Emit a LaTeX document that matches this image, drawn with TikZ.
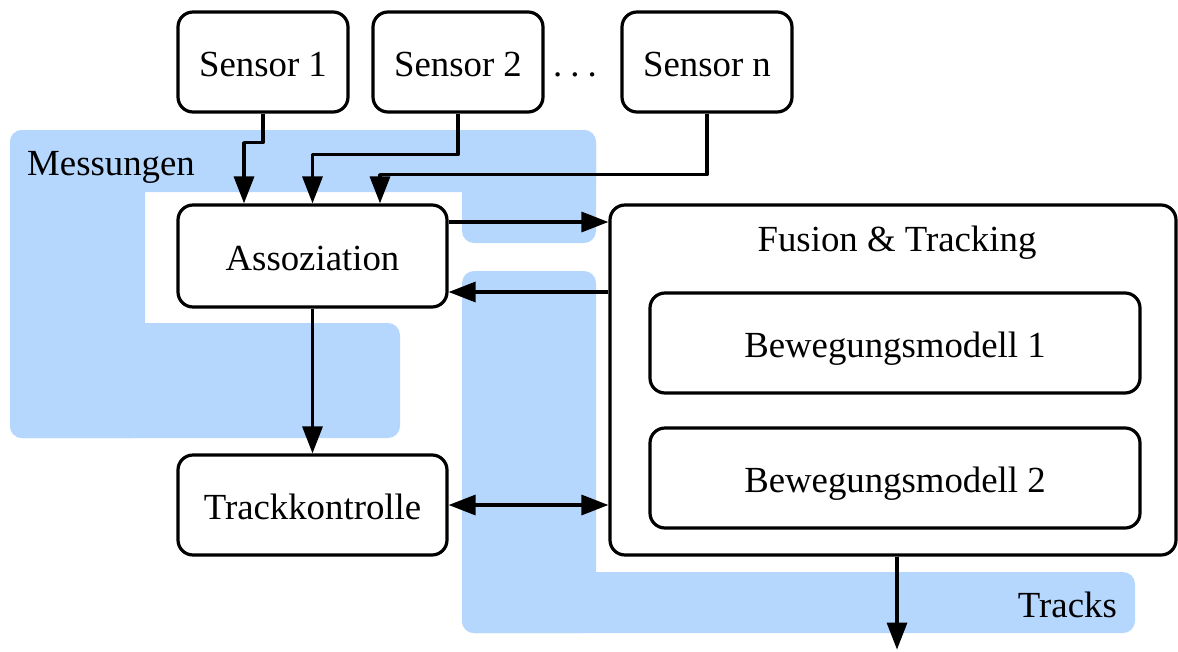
\documentclass[tikz,border=0pt]{standalone}
\usepackage{fontspec}
\setmainfont{Liberation Serif}
\usetikzlibrary{arrows.meta}
\definecolor{zoneblue}{RGB}{181,214,253}
% text set with its baseline 14pt below the centre of its box
\newcommand{\boxtext}[1]{\raisebox{-14pt}[0pt][0pt]{#1}}

\begin{document}
\begin{tikzpicture}[x=1pt,y=-1pt,
  box/.style={draw, line width=3.2pt, rounded corners=15pt, fill=white, inner sep=0pt, align=center},
  arr/.style={line width=3.2pt, line join=round, -{Triangle[length=27pt,width=20pt]}},
  biarr/.style={line width=3.2pt, {Triangle[length=27pt,width=20pt]}-{Triangle[length=27pt,width=20pt]}},
  zone/.style={fill=zoneblue, rounded corners=12pt},
  txt/.style={font=\fontsize{36.8}{44}\selectfont}]
\useasboundingbox (0,0) rectangle (1178,651);

% blue zone "Messungen", built from overlapping rounded pieces
\fill[zone] (10,130) rectangle (596,192);
\fill[zone] (462,130) rectangle (596,243);
\fill[zone] (10,130) rectangle (145,438);
\fill[zone] (10,323) rectangle (400,438);

% blue zone "Tracks"
\fill[zone] (462,271) rectangle (596,633);
\fill[zone] (462,572) rectangle (1135,633);

% zone labels
\node[txt, anchor=base west, inner sep=0pt] (lmess) at (27,175) {Messungen};
\node[txt, anchor=base east, inner sep=0pt] (ltracks) at (1117,617) {Tracks};

% sensors
\node[box, txt, minimum width=170pt, minimum height=100pt] (s1) at (263,62) {\boxtext{Sensor 1}};
\node[box, txt, minimum width=170pt, minimum height=100pt] (s2) at (458,62) {\boxtext{Sensor 2}};
\node[txt, anchor=base, inner sep=0pt] (dots) at (575,76) {.\hspace{8pt}.\hspace{8pt}.};
\node[box, txt, minimum width=170pt, minimum height=100pt] (sn) at (707,62) {\boxtext{Sensor n}};

% processing blocks
\node[box, txt, minimum width=269pt, minimum height=102pt] (as) at (312.5,256) {\boxtext{Assoziation}};
\node[box, txt, minimum width=269pt, minimum height=100pt] (tk) at (312.5,505) {\boxtext{Trackkontrolle}};

\node[box, minimum width=566pt, minimum height=350pt] (fu) at (893,380) {};
\node[txt, anchor=base, inner sep=0pt] (fulabel) at (897,251) {Fusion \& Tracking};
\node[box, txt, minimum width=490pt, minimum height=100pt] (b1) at (895,343) {\boxtext{Bewegungsmodell 1}};
\node[box, txt, minimum width=490pt, minimum height=100pt] (b2) at (895,478) {\boxtext{Bewegungsmodell 2}};

% connectors
\draw[arr] (s1.south) -- ++(0,29) -| ([xshift=-68.5pt]as.north);
\draw[arr] (s2.south) -- ++(0,41) -| (as.north);
\draw[arr] (sn.south) -- ++(0,61) -| ([xshift=67.5pt]as.north);
\draw[arr] ([yshift=34pt]as.east) -- ([yshift=34pt]as.east -| fu.west);
\draw[arr] ([yshift=-36pt]as.east -| fu.west) -- ([yshift=-36pt]as.east);
\draw[arr] (as.south) -- (tk.north);
\draw[biarr] (tk.east) -- (tk.east -| fu.west);
\draw[arr] ([xshift=4pt]fu.south) -- ++(0,93);
\end{tikzpicture}
\end{document}
